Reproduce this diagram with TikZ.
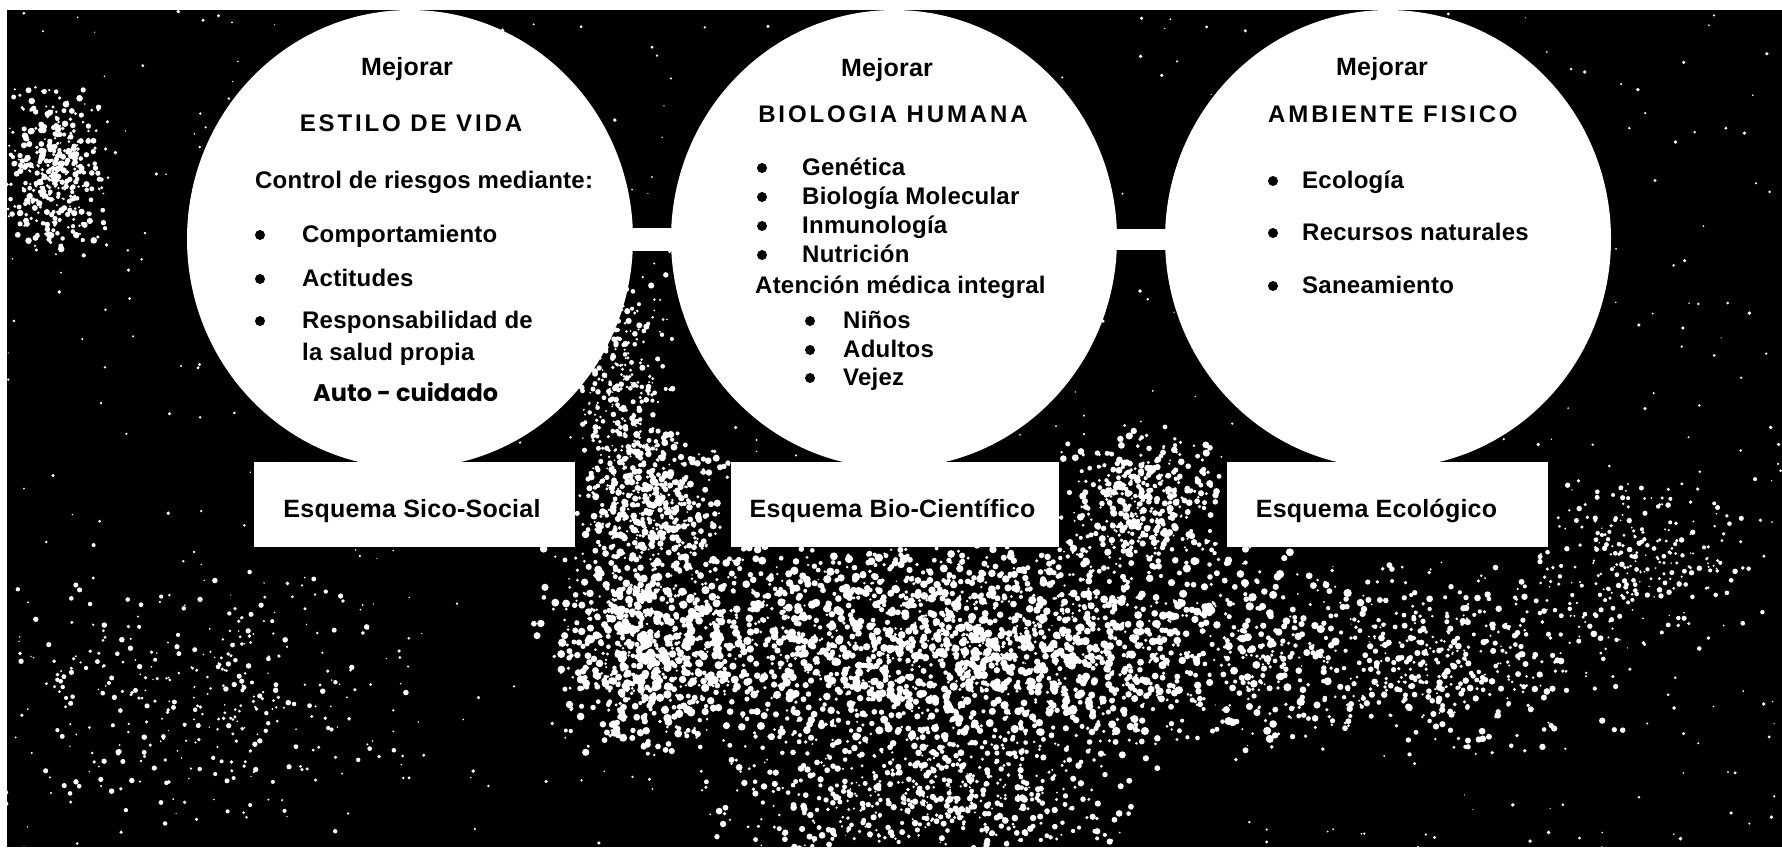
\documentclass[tikz,border=0pt]{standalone}
\usepackage{fontspec}
\setmainfont{Liberation Sans}[LetterSpace=1]
\newfontfamily\titlefont{Liberation Sans}[LetterSpace=12]
\newfontfamily\autofont{Poppins}
\usetikzlibrary{shapes.geometric,calc}
\begin{document}
\begin{tikzpicture}[x=1pt,y=-1pt,
  blob/.style={ellipse, fill=white, inner sep=0pt, minimum width=446pt, minimum height=458pt},
  esquema/.style={rectangle, fill=white, inner sep=0pt, minimum height=85pt},
  txt/.style={inner sep=0pt, font=\fontsize{24}{28}\selectfont\bfseries},
  mej/.style={inner sep=0pt, anchor=base, font=\fontsize{25}{29}\selectfont\bfseries},
  boxtxt/.style={inner sep=0pt, anchor=base, font=\fontsize{25}{29}\selectfont\bfseries},
  ttl/.style={inner sep=0pt, font=\titlefont\fontsize{24}{28}\selectfont\bfseries},
  autotxt/.style={inner sep=0pt, font=\autofont\fontsize{24}{28}\selectfont\bfseries},
  item/.style={txt, anchor=base west},
  dot/.style={fill=black}
]
\useasboundingbox (0,0) rectangle (1782,847);
\fill[white] (0,0) rectangle (1782,847);
\fill[black] (7,10) rectangle (1782,847);

% speckled print texture
\pgfmathsetseed{2024}
\foreach \cx/\cy/\sx/\sy/\n/\rmin/\rvar in {
  950/645/430/115/2400/1.2/3.0,
  640/640/90/120/550/1.2/3.0,
  653/500/85/75/450/1.0/2.6,
  620/380/55/130/300/0.9/2.2,
  1143/500/85/75/420/1.0/2.6,
  930/790/240/75/600/1.0/2.4,
  1420/660/210/100/500/1.0/2.4,
  55/170/55/90/400/0.9/2.4,
  1640/560/130/90/250/0.8/2.0,
  200/700/220/140/350/0.8/2.0}{
  \foreach \k in {1,...,\n}{
    \pgfmathsetmacro{\px}{\cx+\sx*(rand+rand)/2}
    \pgfmathsetmacro{\py}{\cy+\sy*(rand+rand)/2}
    \pgfmathsetmacro{\pr}{\rmin+\rvar*rnd}
    \fill[white] (\px,\py) circle (\pr pt);
  }
}
\foreach \k in {1,...,700}{
  \pgfmathsetmacro{\px}{895+890*rand}
  \pgfmathsetmacro{\py}{430+420*rand}
  \pgfmathsetmacro{\pr}{0.6+1.4*rnd}
  \fill[white] (\px,\py) circle (\pr pt);
}

% circles
\node[blob] (c1) at (410,239) {};
\node[blob] (c2) at (894,239) {};
\node[blob] (c3) at (1388,239) {};
% connecting bars
\fill[white] ($(c1.east)+(-4,-11.5)$) rectangle ($(c2.west)+(4,11.5)$);
\fill[white] ($(c2.east)+(-4,-10.5)$) rectangle ($(c3.west)+(4,10.5)$);
% boxes
\node[esquema, minimum width=321pt] (b1) at (414.5,504.5) {};
\node[esquema, minimum width=328pt] (b2) at (895,504.5) {};
\node[esquema, minimum width=321pt] (b3) at (1387.5,504.5) {};
\node[boxtxt] (tb1) at (412,517) {Esquema Sico-Social};
\node[boxtxt] (tb2) at (892.5,517) {Esquema Bio-Científico};
\node[boxtxt] (tb3) at (1376.5,517) {Esquema Ecológico};

% circle 1
\node[mej] (m1) at (407,75) {Mejorar};
\node[ttl, anchor=base] (h1) at (411,131) {ESTILO DE VIDA};
\node[item] (ctl) at (255,188) {Control de riesgos mediante:};
\node[item] (i11) at (302,242) {Comportamiento};
\node[item] (i12) at (302,286) {Actitudes};
\node[item] (i13) at (302,328) {Responsabilidad de};
\node[item] (i13b) at (302,360) {la salud propia};
\node[autotxt, anchor=base west] (auto) at (313,401) {Auto - cuidado};
\foreach \yy in {235,279,321}{\fill[dot] (260,\yy) circle (5pt);}

% circle 2
\node[mej] (m2) at (887,76) {Mejorar};
\node[ttl, anchor=base] (h2) at (893,122) {BIOLOGIA HUMANA};
\node[item] (i21) at (802,175) {Genética};
\node[item] (i22) at (802,204) {Biología Molecular};
\node[item] (i23) at (802,233) {Inmunología};
\node[item] (i24) at (802,262) {Nutrición};
\node[item] (aten) at (755,293) {Atención médica integral};
\node[item] (i25) at (843,328) {Niños};
\node[item] (i26) at (843,357) {Adultos};
\node[item] (i27) at (843,385) {Vejez};
\foreach \yy in {168,197,226,255}{\fill[dot] (762,\yy) circle (5pt);}
\foreach \yy in {321,350,378}{\fill[dot] (810,\yy) circle (5pt);}

% circle 3
\node[mej] (m3) at (1382,75) {Mejorar};
\node[ttl, anchor=base west] (h3) at (1268,122) {AMBIENTE FISICO};
\node[item] (i31) at (1302,188) {Ecología};
\node[item] (i32) at (1302,240) {Recursos naturales};
\node[item] (i33) at (1302,293) {Saneamiento};
\foreach \yy in {181,233,286}{\fill[dot] (1273,\yy) circle (5pt);}
\end{tikzpicture}
\end{document}
